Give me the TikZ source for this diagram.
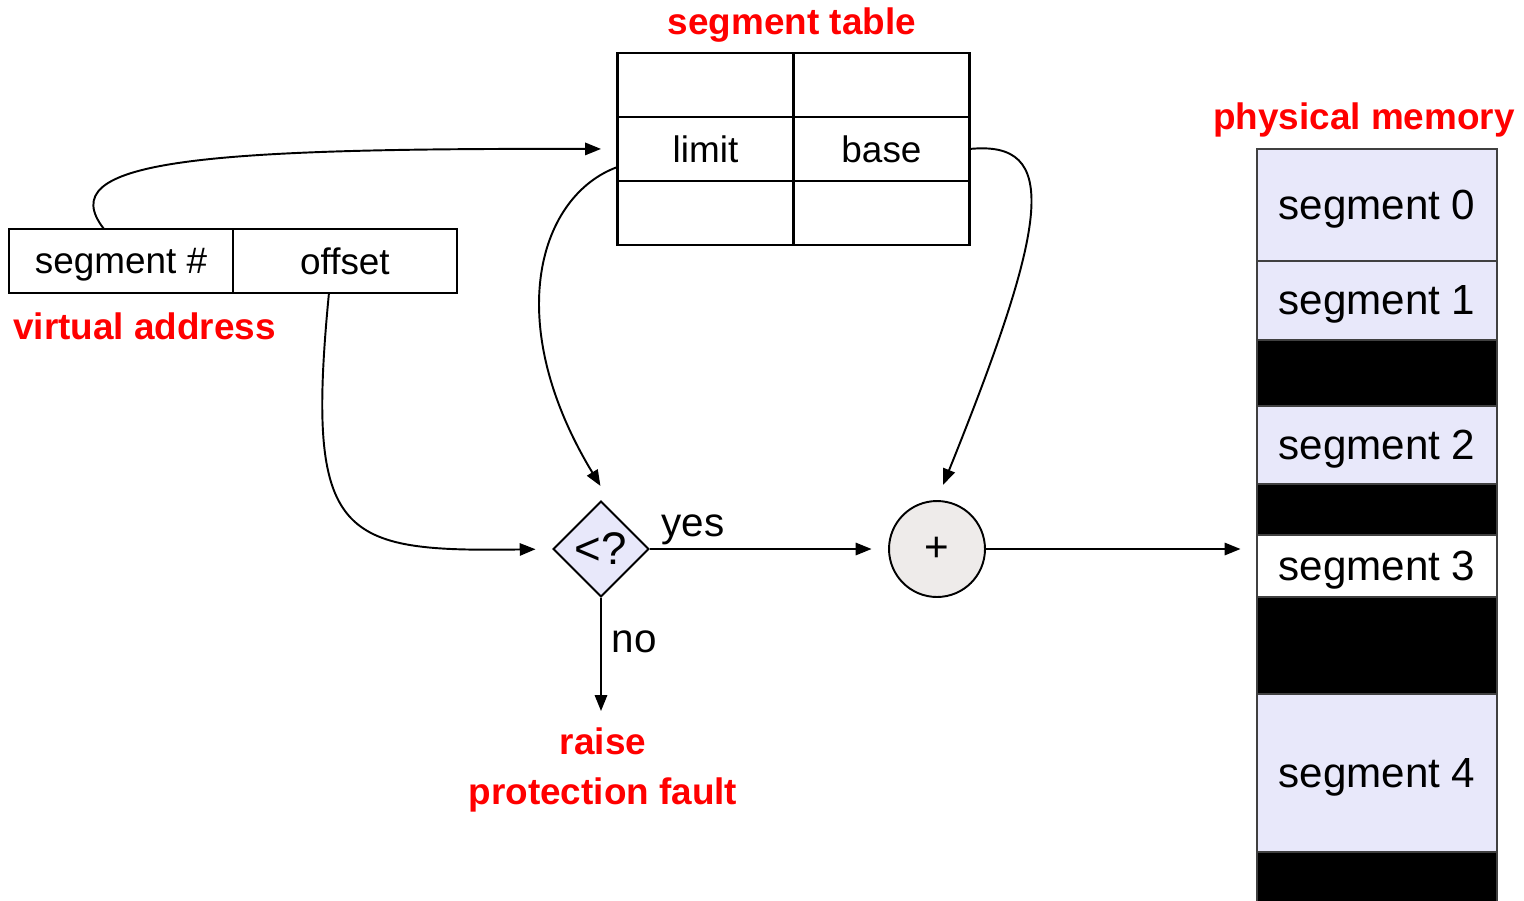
\documentclass[tikz,border=0pt]{standalone}
\usepackage{fontspec}
\setmainfont{Liberation Sans}
\usetikzlibrary{arrows.meta,shapes.geometric,positioning}
\definecolor{lav}{HTML}{E8E8FA}
\definecolor{addgray}{HTML}{EEEBEA}
\definecolor{hot}{HTML}{FF0000}

\begin{document}
\begin{tikzpicture}[x=0.02cm,y=-0.02cm,thick,>={Triangle[length=9pt,width=7pt]},node distance=0pt]
    \tikzstyle{cell}=[rectangle, draw, line width=1.6pt, outer sep=0pt, inner sep=0pt, text depth=0pt, minimum width=3.52cm, minimum height=1.28cm, font=\fontsize{21}{25}\selectfont]
    \tikzstyle{vcell}=[cell, minimum width=4.48cm]
    \tikzstyle{mem}=[rectangle, draw=black!75, line width=1pt, outer sep=0pt, inner sep=0pt, text depth=0pt, fill=lav, minimum width=4.8cm, font=\fontsize{24}{28}\selectfont]
    \tikzstyle{hole}=[mem, fill=black]
    \tikzstyle{test}=[diamond, draw, line width=1.1pt, fill=lav, minimum size=1.92cm, inner sep=0pt, font=\fontsize{26}{30}\selectfont]
    \tikzstyle{adder}=[circle, draw, line width=1.1pt, fill=addgray, minimum size=1.92cm, inner sep=0pt, font=\fontsize{24}{28}\selectfont]
    \tikzstyle{title}=[text=hot, font=\fontsize{21}{28}\bfseries\selectfont, align=center, inner sep=0pt]
    \tikzstyle{plain}=[font=\fontsize{23}{28}\selectfont]
    \tikzstyle{flow}=[->, line width=1.1pt, shorten >=0.33cm]

    \useasboundingbox (0,0) rectangle (1524,900);

    % segment table
    \node[cell]               (t11) at (705.5,85) {};
    \node[cell, right=of t11] (t12) {};
    \node[cell, below=of t11] (t21) {limit};
    \node[cell, right=of t21] (t22) {base};
    \node[cell, below=of t21] (t31) {};
    \node[cell, right=of t31] (t32) {};
    \node[title] (ttitle) at (792,25) {segment table};

    % virtual address
    \node[vcell]               (vseg) at (121,261) {segment \#};
    \node[vcell, right=of vseg] (voff) {offset};
    \node[title] (vtitle) at (144.5,326) {virtual address};

    % physical memory
    \node[mem, minimum height=2.24cm]              (m0) at (1377,205) {segment 0};
    \node[mem, minimum height=1.58cm, below=of m0] (m1) {segment 1};
    \node[hole, minimum height=1.32cm, below=of m1] (h1) {};
    \node[mem, minimum height=1.56cm, below=of h1] (m2) {segment 2};
    \node[hole, minimum height=1.02cm, below=of m2] (h2) {};
    \node[mem, fill=white, minimum height=1.24cm, below=of h2] (m3) {segment 3};
    \node[hole, minimum height=1.94cm, below=of m3] (h3) {};
    \node[mem, minimum height=3.16cm, below=of h3] (m4) {segment 4};
    \node[hole, minimum height=1.08cm, below=of m4] (h4) {};
    \node[title] (mtitle) at (1364,120) {physical memory};

    % check and add
    \node[test]  (test)  at (601,549) {<?};
    \node[adder] (adder) at (937,549) {+};
    \node[title] (fault) at (603,770) {raise\\protection fault};

    \draw[flow] ([xshift=-0.34cm]vseg.north) .. controls (50,160) and (200,148) .. (t21.west);
    \draw[flow] ([yshift=-0.36cm]t21.west) .. controls (540,195) and (500,320) .. ([xshift=0.16cm]test.north);
    \draw[flow] (t22.east) .. controls (1060,140) and (1050,220) .. (adder.north);
    \draw[flow] ([xshift=-0.32cm]voff.south) .. controls (305,540) and (340,552) .. (test.west);
    \draw[flow] (test) -- node[plain, pos=0.18, above, inner sep=2pt] {yes} (test -| adder.west);
    \draw[flow] (test) -- node[plain, pos=0.34, right, xshift=0.08cm] {no} (test |- fault.north);
    \draw[flow] (adder) -- (adder -| m3.west);
\end{tikzpicture}
\end{document}
